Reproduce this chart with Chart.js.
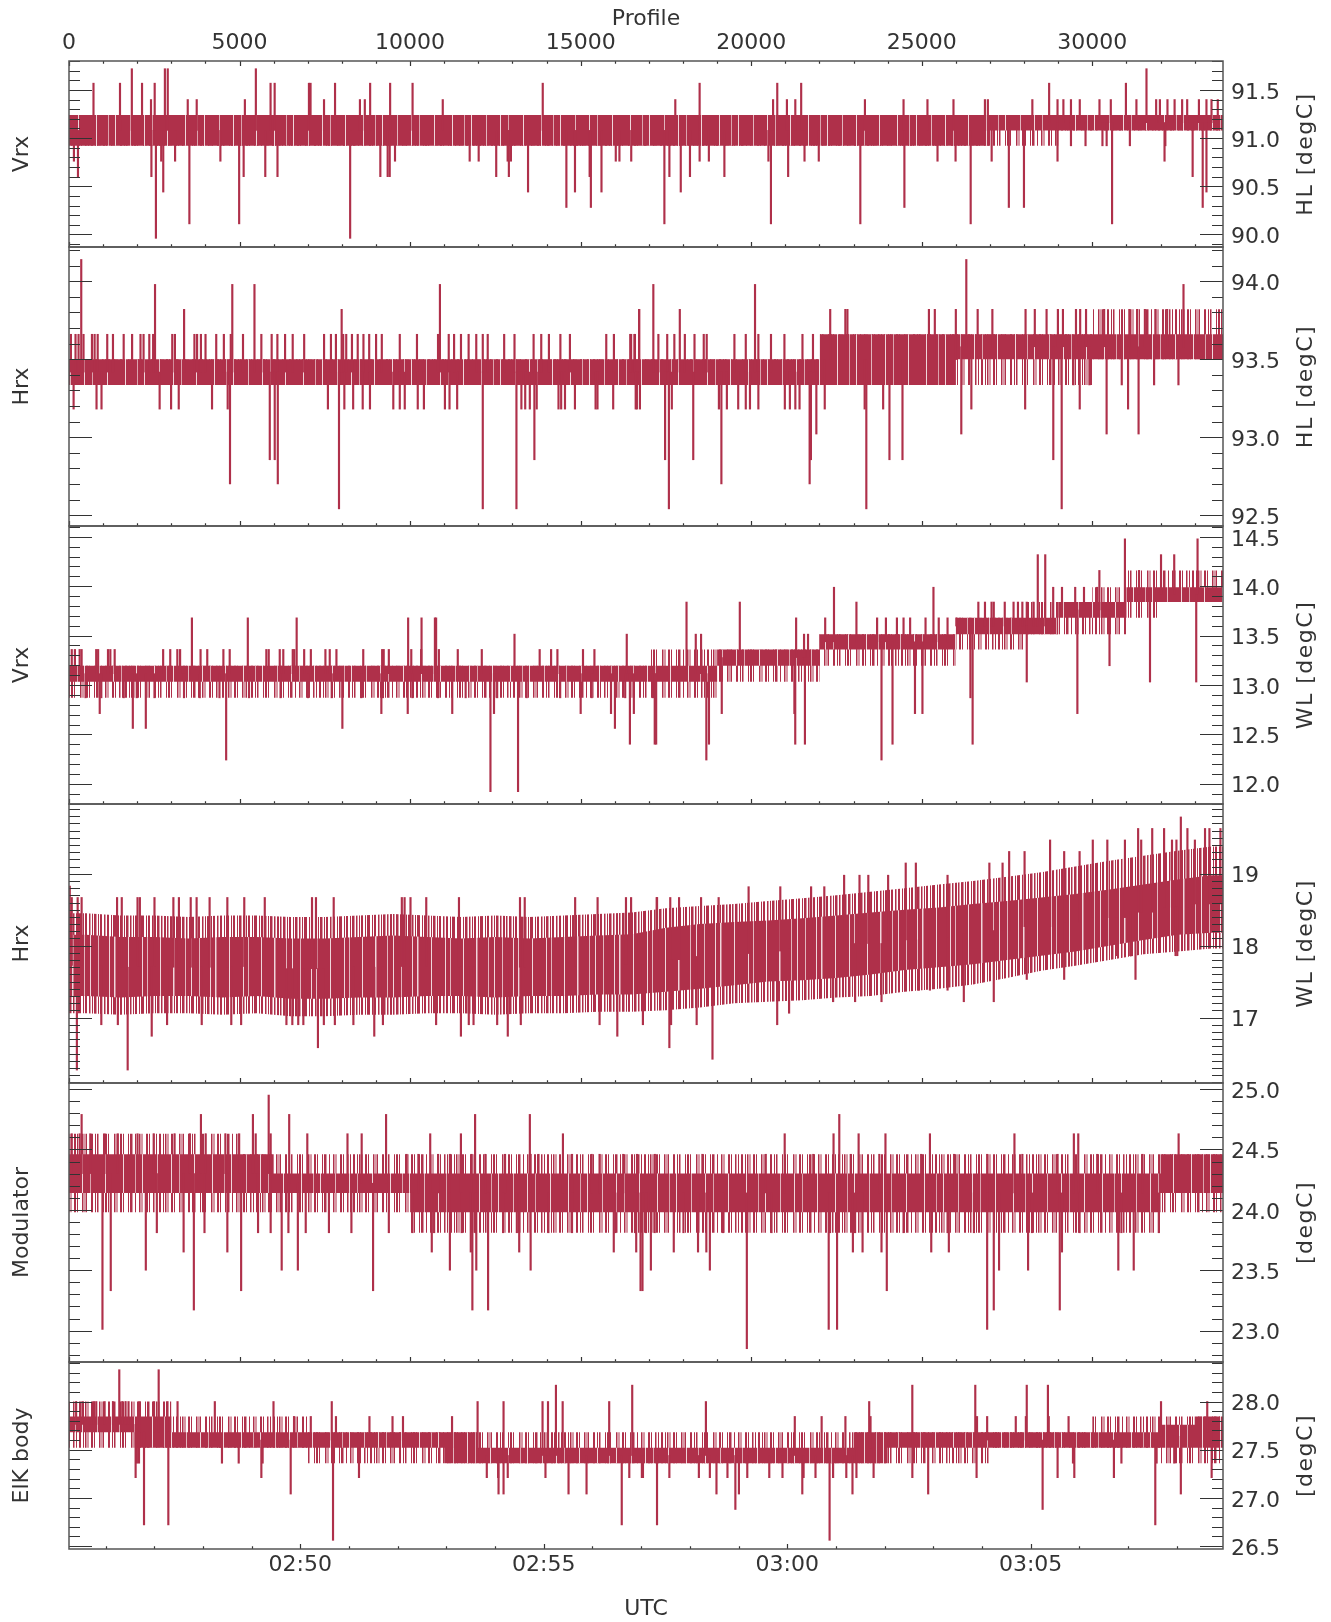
<!DOCTYPE html>
<html><head><meta charset="utf-8">
<script src="https://cdn.jsdelivr.net/npm/chart.js@4.4.1/dist/chart.umd.min.js"></script>
<style>html,body{margin:0;padding:0;background:#fff}canvas{display:block}</style>
</head><body>
<canvas id="c" width="1331" height="1622" style="width:1331px;height:1622px"></canvas>
<script>
// ---------- data ----------
const binStart = [0,1000,2000,3000,4000,5000,6000,7000,8000,9000,10000,11000,12000,13000,14000,15000,16000,17000,18000,19000,20000,21000,22000,23000,24000,25000,26000,27000,28000,29000,30000,31000,32000,33000];
const xMax = 33830;
const profileTicks = [0,5000,10000,15000,20000,25000,30000];
const utcMin = 9915, utcMax = 11337;
const utcTicks = [10200,10500,10800,11100];
const utcTickLabels = ['02:50','02:55','03:00','03:05'];
const leftTitles = ['Vrx','Hrx','Vrx','Hrx','Modulator','ElK body'];
const rightTitles = ['HL [degC]','HL [degC]','WL [degC]','WL [degC]','[degC]','[degC]'];

const p1Ticks = [90.0,90.5,91.0,91.5];
const p2Ticks = [92.5,93.0,93.5,94.0];
const p3Ticks = [12.0,12.5,13.0,13.5,14.0,14.5];
const p4Ticks = [17,18,19];
const p5Ticks = [23.0,23.5,24.0,24.5,25.0];
const p6Ticks = [26.5,27.0,27.5,28.0];

const p1CoreLo = [90.92,90.92,90.92,90.92,90.92,90.92,90.92,90.92,90.92,90.92,90.92,90.92,90.92,90.92,90.92,90.92,90.92,90.92,90.92,90.92,90.92,90.92,90.92,90.92,90.92,90.92,90.92,91.08,91.08,91.08,91.08,91.08,91.08,91.08];
const p1CoreHi = [91.24,91.24,91.24,91.24,91.24,91.24,91.24,91.24,91.24,91.24,91.24,91.24,91.24,91.24,91.24,91.24,91.24,91.24,91.24,91.24,91.24,91.24,91.24,91.24,91.24,91.24,91.24,91.24,91.24,91.24,91.24,91.24,91.24,91.24];
const p1FringeLo = [90.92,90.92,90.92,90.92,90.92,90.92,90.92,90.92,90.92,90.92,90.92,90.92,90.92,90.92,90.92,90.92,90.92,90.92,90.92,90.92,90.92,90.92,90.92,90.92,90.92,90.92,90.92,90.92,90.92,91.08,91.08,91.08,91.08,91.08];
const p1FringeHi = p1CoreHi;

const p2CoreLo = [93.335,93.335,93.335,93.335,93.335,93.335,93.335,93.335,93.335,93.335,93.335,93.335,93.335,93.335,93.335,93.335,93.335,93.335,93.335,93.335,93.335,93.335,93.335,93.335,93.335,93.335,93.50,93.50,93.50,93.50,93.50,93.50,93.50,93.50];
const p2CoreHi = [93.50,93.50,93.50,93.50,93.50,93.50,93.50,93.50,93.50,93.50,93.50,93.50,93.50,93.50,93.50,93.50,93.50,93.50,93.50,93.50,93.50,93.50,93.66,93.66,93.66,93.66,93.66,93.66,93.66,93.66,93.66,93.66,93.66,93.66];
const p2FringeLo = [93.335,93.335,93.335,93.335,93.335,93.335,93.335,93.335,93.335,93.335,93.335,93.335,93.335,93.335,93.335,93.335,93.335,93.335,93.335,93.335,93.335,93.335,93.335,93.335,93.335,93.335,93.335,93.335,93.335,93.335,93.50,93.50,93.50,93.50];
const p2FringeHi = [93.50,93.50,93.50,93.50,93.50,93.50,93.50,93.50,93.50,93.50,93.50,93.50,93.50,93.50,93.50,93.50,93.50,93.50,93.50,93.50,93.50,93.50,93.66,93.66,93.66,93.66,93.66,93.66,93.66,93.66,93.82,93.82,93.82,93.82];

const p3CoreLo = [13.034,13.034,13.034,13.034,13.034,13.034,13.034,13.034,13.034,13.034,13.034,13.034,13.034,13.034,13.034,13.034,13.034,13.034,13.034,13.195,13.195,13.195,13.36,13.36,13.36,13.36,13.515,13.515,13.515,13.68,13.68,13.84,13.84,13.84];
const p3CoreHi = [13.195,13.195,13.195,13.195,13.195,13.195,13.195,13.195,13.195,13.195,13.195,13.195,13.195,13.195,13.195,13.195,13.195,13.195,13.195,13.36,13.36,13.36,13.515,13.515,13.515,13.515,13.68,13.68,13.68,13.84,13.84,13.99,13.99,13.99];
const p3FringeLo = [12.87,12.87,12.87,12.87,12.87,12.87,12.87,12.87,12.87,12.87,12.87,12.87,12.87,12.87,12.87,12.87,12.87,12.87,12.87,13.034,13.034,13.034,13.195,13.195,13.195,13.195,13.36,13.36,13.515,13.515,13.515,13.68,13.84,13.84];
const p3FringeHi = [13.195,13.195,13.195,13.195,13.195,13.195,13.195,13.195,13.195,13.195,13.195,13.195,13.195,13.195,13.195,13.195,13.195,13.36,13.36,13.36,13.36,13.36,13.515,13.515,13.515,13.515,13.68,13.68,13.84,13.84,13.99,14.16,14.16,14.16];

const p4CoreLo = [17.30,17.28,17.30,17.30,17.28,17.30,17.26,17.26,17.28,17.28,17.30,17.30,17.28,17.30,17.30,17.32,17.32,17.36,17.40,17.45,17.50,17.52,17.55,17.60,17.66,17.70,17.74,17.80,17.86,17.92,18.00,18.08,18.15,18.18];
const p4CoreHi = [18.15,18.12,18.12,18.10,18.12,18.12,18.10,18.10,18.12,18.14,18.12,18.10,18.12,18.10,18.12,18.14,18.16,18.25,18.30,18.33,18.35,18.38,18.42,18.46,18.50,18.53,18.58,18.62,18.67,18.72,18.78,18.85,18.92,18.98];
const p4FringeLo = [17.06,17.04,17.06,17.06,17.04,17.06,17.02,17.02,17.04,17.04,17.06,17.06,17.04,17.06,17.06,17.08,17.08,17.10,17.14,17.20,17.22,17.24,17.28,17.30,17.36,17.40,17.46,17.55,17.65,17.72,17.80,17.88,17.92,17.96];
const p4FringeHi = [18.45,18.42,18.42,18.40,18.42,18.42,18.40,18.40,18.42,18.44,18.42,18.40,18.42,18.40,18.42,18.44,18.46,18.52,18.55,18.58,18.62,18.66,18.70,18.75,18.80,18.85,18.90,18.96,19.02,19.10,19.18,19.25,19.32,19.38];

const p5CoreLo = [24.14,24.14,24.14,24.14,24.14,24.14,24.14,24.14,24.14,24.14,23.98,23.98,23.98,23.98,23.98,23.98,23.98,23.98,23.98,23.98,23.98,23.98,23.98,23.98,23.98,23.98,23.98,23.98,23.98,23.98,23.98,23.98,24.14,24.14];
const p5CoreHi = [24.46,24.46,24.46,24.46,24.46,24.46,24.30,24.30,24.30,24.30,24.30,24.30,24.30,24.30,24.30,24.30,24.30,24.30,24.30,24.30,24.30,24.30,24.30,24.30,24.30,24.30,24.30,24.30,24.30,24.30,24.30,24.30,24.46,24.46];
const p5FringeLo = [23.98,23.98,23.98,23.98,23.98,23.98,23.98,23.98,23.98,23.98,23.81,23.81,23.81,23.81,23.81,23.81,23.81,23.81,23.81,23.81,23.81,23.81,23.81,23.81,23.81,23.81,23.81,23.81,23.81,23.81,23.81,23.81,23.98,23.98];
const p5FringeHi = [24.63,24.63,24.63,24.63,24.63,24.46,24.46,24.46,24.46,24.46,24.46,24.46,24.46,24.46,24.46,24.46,24.46,24.46,24.46,24.46,24.46,24.46,24.46,24.46,24.46,24.46,24.46,24.46,24.46,24.46,24.46,24.46,24.46,24.46];

const p6CoreLo = [27.68,27.68,27.52,27.52,27.52,27.52,27.52,27.52,27.52,27.52,27.52,27.36,27.36,27.36,27.36,27.36,27.36,27.36,27.36,27.36,27.36,27.36,27.36,27.36,27.52,27.52,27.52,27.52,27.52,27.52,27.52,27.52,27.52,27.52];
const p6CoreHi = [27.845,27.845,27.845,27.68,27.68,27.68,27.68,27.68,27.68,27.68,27.68,27.68,27.52,27.52,27.52,27.52,27.52,27.52,27.52,27.52,27.52,27.52,27.52,27.68,27.68,27.68,27.68,27.68,27.68,27.68,27.68,27.68,27.76,27.845];
const p6FringeLo = [27.52,27.52,27.52,27.52,27.52,27.52,27.52,27.36,27.36,27.36,27.36,27.36,27.36,27.36,27.36,27.36,27.36,27.36,27.36,27.36,27.36,27.36,27.36,27.36,27.36,27.36,27.36,27.52,27.52,27.52,27.52,27.52,27.36,27.36];
const p6FringeHi = [28.0,28.0,28.0,27.845,27.845,27.845,27.845,27.68,27.68,27.68,27.68,27.68,27.68,27.68,27.68,27.68,27.68,27.68,27.68,27.68,27.68,27.68,27.68,27.68,27.68,27.68,27.68,27.68,27.68,27.68,27.845,27.845,27.845,27.845];

const p1Spikes = [[718,91.57],[1495,91.57],[1842,91.72],[2141,91.57],[2404,91.40],[2512,91.57],[2811,91.72],[2895,91.72],[3481,91.40],[3744,91.40],[5156,91.40],[5478,91.72],[5909,91.57],[6029,91.57],[7034,91.57],[7081,91.57],[7476,91.40],[7799,91.57],[8529,91.40],[8672,91.40],[8828,91.57],[9414,91.57],[10072,91.57],[10957,91.40],[13888,91.57],
[144,90.76],[263,90.60],[2416,90.60],[2548,89.96],[2703,90.76],[2763,90.44],[3110,90.76],[3529,90.11],[4438,90.76],[4988,90.11],[5120,90.60],[5754,90.60],[6112,90.60],[8242,89.96],[9127,90.60],[9342,90.60],[9402,90.60],[9557,90.76],[11746,90.76],[12010,90.76],[12524,90.60],[12859,90.76],[12895,90.60],[12955,90.76],[13457,90.44],[14581,90.28],[14833,90.44],[15263,90.60],[15299,90.28],[15610,90.44],[16029,90.76],[16136,90.76],
[17774,91.40],[18487,91.57],[20640,91.40],[20763,91.57],[21046,91.40],[21292,91.40],[21464,91.57],[23333,91.40],[24465,91.40],[25166,91.40],[25929,91.40],[26851,91.40],[26937,91.40],[28241,91.40],[28733,91.57],[28979,91.40],[29151,91.40],[29373,91.40],[29631,91.40],[30209,91.40],[30541,91.40],[30984,91.57],[31292,91.40],[31587,91.72],[31870,91.40],[31980,91.40],[32202,91.40],[32411,91.40],[32632,91.40],[32780,91.40],[33124,91.40],[33345,91.40],[33493,91.40],[33677,91.40],
[16482,90.76],[17454,90.11],[17601,90.60],[17934,90.44],[18204,90.60],[18487,90.76],[18758,90.76],[19213,90.60],[20504,90.76],[20578,90.11],[21082,90.60],[21562,90.76],[21980,90.76],[23198,90.11],[24490,90.28],[25461,90.76],[25990,90.76],[26433,90.11],[27048,90.76],[27552,90.28],[27995,90.28],[28979,90.76],[30578,90.11],[32116,90.76],[32940,90.60],[33235,90.28],[33345,90.44],
[29373,90.92],[29800,90.92],[30296,90.92],[30419,90.92],[31100,90.92],[32140,90.92]];

const p2Spikes = [[359,94.14],[2522,93.98],[3374,93.82],[4787,93.98],[5437,93.98],[7993,93.82],[10874,93.98],[16715,93.82],
[56,93.66],[191,93.66],[280,93.66],[426,93.66],[673,93.66],[751,93.66],[841,93.66],[1121,93.66],[1289,93.66],[1603,93.66],[1850,93.66],[2096,93.66],[2186,93.66],[2354,93.66],[2466,93.66],[3027,93.66],[3105,93.66],[3677,93.66],[3755,93.66],[3867,93.66],[4002,93.66],[4316,93.66],[4540,93.66],[4742,93.66],[5101,93.66],[5639,93.66],[5941,93.66],[6109,93.66],[6334,93.66],[6558,93.66],[6894,93.66],[7477,93.66],[7679,93.66],[7825,93.66],[8038,93.66],[8127,93.66],[8295,93.66],[8464,93.66],[8632,93.66],[8800,93.66],[9002,93.66],[9170,93.66],[9697,93.66],[10201,93.66],[10818,93.66],[11132,93.66],[11289,93.66],[11491,93.66],[11715,93.66],[11939,93.66],[12130,93.66],[12275,93.66],[12757,93.66],[13060,93.66],[13620,93.66],[13844,93.66],[14069,93.66],[14405,93.66],[14685,93.66],[15750,93.66],[15974,93.66],[16479,93.66],[16591,93.66],
[16453,93.66],[16576,93.66],[17278,93.66],[17537,93.66],[17746,93.66],[18054,93.66],[18337,93.66],[18608,93.66],[18695,93.66],[19507,93.66],[19840,93.66],[20209,93.66],[20579,93.66],[20973,93.66],[21502,93.66],[21810,93.66],
[135,93.18],[807,93.18],[953,93.18],[2657,93.18],[2993,93.18],[3217,93.18],[4193,93.18],[4652,93.18],[4720,92.70],[5886,92.855],[6031,92.855],[6121,92.70],[7590,93.18],[7915,92.54],[8072,93.18],[8330,93.18],[8610,93.18],[8823,93.18],[9507,93.18],[9697,93.18],[9843,93.18],[10224,93.18],[10404,93.18],[11020,93.18],[11155,93.18],[11379,93.18],[12130,92.54],[13117,92.54],[13262,93.18],[13374,93.18],[13509,93.18],[13643,92.855],[13711,93.18],[14350,93.18],[14428,93.18],[14540,93.18],[14832,93.18],[15437,93.18],[15493,93.18],[15953,93.18],[16648,93.18],
[16712,93.82],[17130,93.98],[17906,93.82],[20111,93.98],[22315,93.82],[22759,93.82],[22820,93.82],[25209,93.82],[25382,93.82],[25998,93.82],[26305,94.14],[26638,93.82],[27069,93.82],[28042,93.82],[28313,93.82],[28658,93.82],[28990,93.82],[29138,93.82],[29520,93.82],[29643,93.82],[29815,93.82],[30345,93.82],[31084,93.82],[31318,93.82],[31540,93.82],[31847,93.82],[32192,93.82],[32672,93.98],
[16613,93.18],[16737,93.18],[17475,92.855],[17586,92.54],[17672,93.18],[18300,92.855],[19052,93.18],[19125,92.70],[19286,93.18],[19618,93.18],[19840,93.18],[19963,93.18],[20209,93.18],[20985,93.18],[21133,93.18],[21293,93.18],[21416,93.18],[21712,92.70],[21749,92.855],[21909,93.02],[22155,93.18],[23325,93.18],[23374,92.54],[23867,93.18],[24052,92.855],[24434,92.855],[26158,93.02],[26453,93.18],[28030,93.18],[28855,92.855],[29101,92.54],[29630,93.18],[30418,93.02],[31047,93.18],[31355,93.02],
[29446,93.335],[29914,93.335],[30862,93.335],[31810,93.335],[32524,93.335]];

const p3Spikes = [[3603,13.68],[5242,13.68],[6674,13.68],[9942,13.68],[10335,13.68],[10727,13.68],[10762,13.68],[13060,13.515],[16351,13.515],
[81,13.36],[173,13.36],[312,13.36],[370,13.36],[797,13.36],[854,13.36],[1143,13.36],[1212,13.36],[1339,13.36],[2760,13.36],[2968,13.36],[3176,13.36],[3257,13.36],[3857,13.36],[4053,13.36],[4526,13.36],[4711,13.36],[5785,13.36],[5855,13.36],[6178,13.36],[6282,13.36],[6559,13.36],[6605,13.36],[6894,13.36],[7090,13.36],[7517,13.36],[7644,13.36],[7840,13.36],[8626,13.36],[9180,13.36],[9226,13.36],[9376,13.36],[10034,13.36],[10323,13.36],[10843,13.36],[11397,13.36],[12101,13.36],[13798,13.36],[14133,13.36],[14318,13.36],[15068,13.36],[15403,13.36],
[901,12.71],[1871,12.56],[2252,12.56],[4607,12.24],[8014,12.56],[9157,12.71],[9930,12.71],[11235,12.71],[12355,11.92],[12459,12.71],[13164,11.92],[15000,12.71],[15889,12.71],[16004,12.56],[16443,12.40],[16559,12.71],[17171,12.40],
[485,12.87],[947,12.87],[1605,12.87],[1986,12.87],[2506,12.87],[3372,12.87],[3834,12.87],[4411,12.87],[5277,12.87],[6201,12.87],[7009,12.87],[7702,12.87],[8568,12.87],[9203,12.87],[10069,12.87],[10820,12.87],[11628,12.87],[12552,12.87],[13418,12.87],[14399,12.87],[15323,12.87],[16305,12.87],[17113,12.87],
[18103,13.84],[18374,13.515],[18529,13.515],[19665,13.84],[21316,13.68],[21548,13.515],[21665,13.515],[22168,13.68],[22426,13.99],[23084,13.84],[23690,13.68],[25342,13.99],[27110,13.84],[27819,13.84],[27948,13.84],[28400,14.32],[28619,14.32],[29497,13.99],[30206,14.16],[30955,14.48],[31368,14.16],[32013,14.32],[32400,14.32],[33084,14.48],
[23948,13.68],[24271,13.68],[24465,13.68],[24658,13.68],[25110,13.68],[25497,13.68],[25755,13.68],[26013,13.68],
[26658,13.84],[26852,13.84],[27045,13.84],[27432,13.84],[27690,13.84],[28077,13.84],[28271,13.84],
[28852,13.99],[29110,13.99],[29755,13.99],[30142,13.99],
[17213,12.40],[18684,12.24],[18761,12.40],[19136,12.71],[21265,12.71],[21290,12.40],[21574,12.40],[23819,12.24],[24142,12.40],[24800,12.71],[25019,12.71],[26426,12.87],[26490,12.40],[28077,13.03],[29561,12.71],[30503,13.195],[31690,13.03],[33045,13.03]];

const p4Spikes = [[23,18.83],
[81,18.67],[254,18.67],[370,18.67],[1409,18.67],[1547,18.67],[2009,18.67],[2078,18.67],[2506,18.67],[3060,18.67],[3222,18.67],[3568,18.67],[3741,18.67],[4122,18.67],[4642,18.67],[5138,18.67],[5739,18.67],[7124,18.67],[7240,18.67],[7760,18.67],[9757,18.67],[9838,18.67],[10011,18.67],[10473,18.67],[11432,18.67],[13221,18.67],[13360,18.67],[14838,18.67],[15496,18.67],[16328,18.67],[16478,18.67],[17228,18.67],
[947,16.90],[1432,16.90],[2875,16.90],[3891,16.90],[4757,16.90],[5046,16.90],[6374,16.90],[6547,16.90],[6720,16.90],[6870,16.90],[7471,16.90],[7794,16.90],[8337,16.90],[9203,16.90],[10762,16.90],[11720,16.90],[11859,16.90],[12552,16.90],[13245,16.90],[15554,16.90],[16824,16.90],
[2425,16.74],[8949,16.74],[11489,16.74],[12863,16.74],[16074,16.74],[7298,16.58],[1720,16.27],[231,16.27],
[32594,19.79],[31342,19.63],[31755,19.63],[32103,19.63],[32787,19.63],[33303,19.63],[33432,19.63],[33755,19.63],
[28761,19.47],[30013,19.47],[30439,19.47],[30955,19.47],[31432,19.47],[32335,19.47],[32465,19.47],[33006,19.47],
[27561,19.31],[28013,19.31],[29174,19.31],[29626,19.31],
[24529,19.15],[24826,19.15],[26981,19.15],[27368,19.15],
[22723,18.98],[23174,18.98],[23432,18.98],[24013,18.98],[25755,18.98],
[19923,18.82],[20852,18.82],[21755,18.82],[22142,18.82],
[17239,18.67],[17626,18.67],[17884,18.67],[18529,18.67],[19045,18.67],
[17600,16.58],[18864,16.42],[17650,16.90],[18400,16.90],[20761,16.90],[21110,17.06],[22400,17.22],[23045,17.22],[23819,17.22],[26232,17.22],[27110,17.22],[24916,17.38],[25239,17.38],[25755,17.38],[28077,17.53],[29174,17.53],[31265,17.53],[30723,17.86],[31110,17.86],[32439,17.86],[32490,17.86]];

const p5Spikes = [[5854,24.95],[370,24.79],[3868,24.79],[5392,24.79],[6455,24.79],[9295,24.79],[11905,24.79],[13510,24.79],
[81,24.63],[312,24.63],[624,24.63],[1039,24.63],[1432,24.63],[2009,24.63],[2483,24.63],[3095,24.63],[3545,24.63],[4007,24.63],[4584,24.63],[4988,24.63],[5473,24.63],[5912,24.63],[6986,24.63],[8164,24.63],[8580,24.63],[10589,24.63],[11489,24.63],[14480,24.63],
[22581,24.79],[22413,24.63],[20981,24.63],[23148,24.63],[23935,24.63],[25239,24.63],[27716,24.63],[29458,24.63],[29587,24.63],[32529,24.63],
[17174,24.46],[18568,24.46],[20426,24.46],[21819,24.46],[22916,24.46],[23755,24.46],[24981,24.46],[25948,24.46],[26916,24.46],[27948,24.46],[28981,24.46],[30142,24.46],[31471,24.46],
[9896,24.46],[10242,24.46],[10820,24.46],[11166,24.46],[11801,24.46],[12205,24.46],[12783,24.46],[13533,24.46],[13764,24.46],[14746,24.46],[15323,24.46],[15554,24.46],[16247,24.46],[16651,24.46],
[981,23.01],[1224,23.33],[2252,23.50],[2575,23.81],[3360,23.65],[3660,23.17],[3972,23.81],[4642,23.65],[5046,23.33],[5542,23.81],[5912,23.81],[6235,23.50],[6432,23.81],[6709,23.50],[6940,23.81],[7620,23.81],[8279,23.81],[8914,23.33],[9376,23.81],[10635,23.65],[11166,23.50],[11778,23.65],[11825,23.17],[11940,23.50],[12286,23.17],[13198,23.65],[13533,23.50],[15970,23.65],[16628,23.65],[16755,23.33],[17170,23.81],
[19871,22.85],[22271,23.01],[22516,23.01],[26916,23.01],[27110,23.17],[23974,23.33],[29045,23.17],[16812,23.33],[17058,23.50],[18787,23.50],[27265,23.50],[28116,23.50],[30761,23.50],[31213,23.50],[17729,23.65],[18440,23.65],[18684,23.65],[22980,23.65],[23264,23.65],[23819,23.65],[25277,23.65],[25793,23.65],[29109,23.65],
[16916,23.81],[18013,23.81],[19174,23.81],[20594,23.81],[22310,23.81],[23045,23.81],[24465,23.81],[25755,23.81],[26529,23.81],[28232,23.81],[29626,23.81],[30852,23.81],[31948,23.81],
[10069,23.81],[10704,23.81],[11512,23.81],[11916,23.81],[12725,23.81],[13129,23.81],[14053,23.81],[14746,23.81],[16016,23.81],[16593,23.81]];

const p6Spikes = [[1474,28.33],[2629,28.33],[14275,28.17],[16511,28.17],
[209,28.0],[393,28.0],[725,28.0],[799,28.0],[1044,28.0],[1290,28.0],[1560,28.0],[1658,28.0],[1745,28.0],[2064,28.0],[2494,28.0],[2887,28.0],[3182,28.0],[4275,28.0],[5995,28.0],[7703,28.0],[11978,28.0],[12739,28.0],[13882,28.0],[14042,28.0],[14472,28.0],[15836,28.0],
[2199,26.72],[2912,26.72],[7740,26.56],[16204,26.72],[6499,27.04],[12592,27.04],[12739,27.04],[14644,27.04],[15172,27.04],
[1953,27.21],[5639,27.21],[8501,27.21],[12248,27.21],[12580,27.21],[12862,27.21],[13968,27.21],[16425,27.21],[16794,27.21],
[6597,27.845],[7088,27.845],[7826,27.845],[8808,27.845],[9484,27.845],[9791,27.845],[11229,27.845],
[1990,27.36],[2052,27.36],[4484,27.36],[4975,27.36],[5676,27.36],
[24722,28.17],[26568,28.17],[28077,28.17],[28697,28.17],[18671,28.0],[23458,28.0],[32013,28.0],[33368,28.0],
[21277,27.845],[22064,27.845],[22761,27.845],[23497,27.845],[26619,27.845],[26916,27.845],[27755,27.845],[28051,27.845],[28722,27.845],[29303,27.845],
[17238,26.72],[22297,26.56],[19535,26.88],[31845,26.72],[28542,26.88],[18981,27.04],[19639,27.04],[21497,27.04],[22968,27.04],[25187,27.04],[32594,27.04],
[16826,27.21],[17600,27.21],[18465,27.21],[18787,27.21],[19303,27.21],[19884,27.21],[20529,27.21],[20916,27.21],[21535,27.21],[21884,27.21],[22400,27.21],[22787,27.21],[23084,27.21],[23587,27.21],[24723,27.21],[26606,27.21],[28981,27.21],[29471,27.21],[30632,27.21],[33497,27.21],
[29432,27.36],[30852,27.36],[31884,27.36],[32400,27.36]];

// ---------- styles / layout ----------
const COLOR = 'rgb(175,48,74)';
const TXT = '#333';
const FONT = {family: 'DejaVu Sans', size: 22};
const canvas = document.getElementById('c');
const mainCtx = canvas.getContext('2d');

// texture tiles (styling only): comb of thin lines for the fringe, thin white streaks in the core
const FRINGE_STRIPES = [[0,1.5],[2.5,1],[6,2],[9,1],[14,1.5],[16.5,1],[18,1],[23,2],[27,1],[29,1.5],[35,1],[37,2],[40,1],[46,1.5],[48.5,1],[52,2],[55,1],[60,1],[62,2.5],[67,1],[71,1.5],[73.5,1],[78,2],[81,1],[85,1.5],[88,1],[91,2],[95,1]];
const FRINGE_DENSE = [[0,2],[3,1.5],[6,2.5],[10,1],[12,2],[16,1],[18,2.5],[22,1.5],[25,1],[27,3],[32,1],[34,2],[38,1.5],[41,1],[43,2.5],[47,1],[49,2],[53,1.5],[56,2],[60,1],[62,3],[67,1],[69,2],[73,1],[75,2.5],[79,1.5],[82,1],[84,2],[88,1],[90,3],[95,1],[97,2],[101,1.5],[104,1],[106,2.5],[110,1.5]];
const CORE_GAPS = [[7,1],[19,0.7],[26,1],[41,0.8],[55,1],[63,0.7],[78,1]];
const NOISY_GAPS = [[3,1],[11,0.8],[22,1],[27,1.5],[41,1],[55,1],[60,0.8],[73,1],[86,1.5],[98,0.8]];
function makePattern(width, bg, stripes, stripeColor, shift){
  const t = document.createElement('canvas'); t.width = width; t.height = 4;
  const g = t.getContext('2d');
  if (bg) { g.fillStyle = bg; g.fillRect(0,0,width,4); }
  g.fillStyle = stripeColor;
  stripes.forEach(s => g.fillRect(s[0],0,s[1],4));
  const pat = mainCtx.createPattern(t, 'repeat');
  if (pat.setTransform) pat.setTransform(new DOMMatrix().translate(shift,0));
  return pat;
}

const panels = [
  {min:89.87, max:91.80, ticks:p1Ticks, dec:1, major:5, h:186, lo:p1CoreLo, hi:p1CoreHi, flo:p1FringeLo, fhi:p1FringeHi, sp:p1Spikes, smooth:false, noisy:false},
  {min:92.43, max:94.22, ticks:p2Ticks, dec:1, major:5, h:279, lo:p2CoreLo, hi:p2CoreHi, flo:p2FringeLo, fhi:p2FringeHi, sp:p2Spikes, smooth:false, noisy:false},
  {min:11.795,max:14.61, ticks:p3Ticks, dec:1, major:5, h:278, lo:p3CoreLo, hi:p3CoreHi, flo:p3FringeLo, fhi:p3FringeHi, sp:p3Spikes, smooth:false, noisy:false},
  {min:16.09, max:19.97, ticks:p4Ticks, dec:0, major:10, h:279, lo:p4CoreLo, hi:p4CoreHi, flo:p4FringeLo, fhi:p4FringeHi, sp:p4Spikes, smooth:true, noisy:true},
  {min:22.74, max:25.05, ticks:p5Ticks, dec:1, major:5, h:279, lo:p5CoreLo, hi:p5CoreHi, flo:p5FringeLo, fhi:p5FringeHi, sp:p5Spikes, smooth:false, noisy:false},
  {min:26.47, max:28.41, ticks:p6Ticks, dec:1, major:5, h:187, lo:p6CoreLo, hi:p6CoreHi, flo:p6FringeLo, fhi:p6FringeHi, sp:p6Spikes, smooth:false, noisy:false}
];

function steps(arr, smooth){
  const last = arr[arr.length-1];
  if (smooth) {
    return [{x:0, y:arr[0]}].concat(binStart.map((x,i)=>({x:x+500, y:arr[i]}))).concat([{x:xMax, y:last}]);
  }
  return binStart.map((x,i)=>({x:x, y:arr[i]})).concat([{x:xMax, y:last}]);
}
function binOf(x){
  let b = 0;
  for (let i=0;i<binStart.length;i++) if (binStart[i] <= x) b = i;
  return b;
}

const datasets = [];
const scales = {
  x: {type:'linear', position:'top', min:0, max:xMax, offset:false, bounds:'data',
      afterBuildTicks: s => { s.ticks = profileTicks.map(v=>({value:v})); },
      ticks:{font:FONT, color:TXT, padding:5, maxRotation:0, autoSkip:false, callback: v => String(v)},
      grid:{display:false, drawTicks:false}, border:{display:false},
      title:{display:true, text:'Profile', font:FONT, color:TXT, padding:{top:6, bottom:0}},
      afterFit: s => { s.height = 61; }},
  utc: {type:'linear', axis:'x', position:'bottom', min:utcMin, max:utcMax, offset:false, bounds:'data',
      afterBuildTicks: s => { s.ticks = utcTicks.map(v=>({value:v})); },
      ticks:{font:FONT, color:TXT, padding:3, maxRotation:0, autoSkip:false, callback: (v,i) => utcTickLabels[i]},
      grid:{display:false, drawTicks:false}, border:{display:false},
      title:{display:true, text:'UTC', font:FONT, color:TXT, padding:{top:0, bottom:0}},
      afterFit: s => { s.height = 73; }}
};

panels.forEach((p,k) => {
  const yid = 'y'+(k+1);
  scales[yid] = {type:'linear', axis:'y', position:'right', stack:'R', stackWeight:p.h, weight:k+1,
    min:p.min, max:p.max, bounds:'data', stacked:false,
    afterBuildTicks: s => { s.ticks = p.ticks.map(v=>({value:v})); },
    ticks:{font:FONT, color:TXT, padding:8, labelOffset:3, autoSkip:false, callback: v => Number(v).toFixed(p.dec)},
    grid:{display:false, drawTicks:false}, border:{display:false},
    afterFit: s => { s.width = 108; }};
  scales['l'+(k+1)] = {type:'linear', axis:'y', position:'left', stack:'L', stackWeight:p.h, weight:panels.length-k,
    min:0, max:1, bounds:'data',
    ticks:{display:false}, grid:{display:false, drawTicks:false}, border:{display:false},
    title:{display:true, text:leftTitles[k], font:FONT, color:TXT, padding:{top:9, bottom:0}},
    afterFit: s => { s.width = 69; }};

  const fringePat = p.noisy ? makePattern(113, null, FRINGE_DENSE, COLOR, k*17)
                            : makePattern(97, null, FRINGE_STRIPES, COLOR, k*17);
  const corePat = p.noisy ? makePattern(101, COLOR, NOISY_GAPS, 'rgba(255,255,255,0.8)', k*29)
                          : makePattern(89, COLOR, CORE_GAPS, 'rgba(255,255,255,0.8)', k*29);
  const common = {type:'line', xAxisID:'x', yAxisID:yid, borderWidth:0, borderColor:'rgba(0,0,0,0)', pointRadius:0, stepped:!p.smooth, tension:0};
  datasets.push(Object.assign({}, common, {label:'fringeHi'+k, data:steps(p.fhi, p.smooth), fill:'+1', backgroundColor:fringePat, order:3}));
  datasets.push(Object.assign({}, common, {label:'fringeLo'+k, data:steps(p.flo, p.smooth), fill:false, order:3}));
  datasets.push(Object.assign({}, common, {label:'coreHi'+k, data:steps(p.hi, p.smooth), fill:'+1', backgroundColor:corePat, order:2}));
  datasets.push(Object.assign({}, common, {label:'coreLo'+k, data:steps(p.lo, p.smooth), fill:false, order:2}));
  datasets.push({type:'bar', label:'spikes'+k, xAxisID:'x', yAxisID:yid, stack:'sp', order:1,
    backgroundColor:COLOR, borderWidth:0, barThickness:1.5,
    data: p.sp.map(([x,v]) => { const b = binOf(x); return {x:x, y:[(p.lo[b]+p.hi[b])/2, v]}; })});
});

const decor = {
  id:'decor',
  afterDatasetsDraw(chart){
    const ctx = chart.ctx, ca = chart.chartArea, xs = chart.scales.x, us = chart.scales.utc;
    const L = ca.left, R = ca.right;
    ctx.save();
    panels.forEach((p,k) => {
      const ys = chart.scales['y'+(k+1)];
      const top = ys.top, bot = ys.bottom;
      ctx.beginPath();
      ctx.strokeStyle = '#333'; ctx.lineWidth = 1.2;
      const t0 = Math.ceil(p.min*10 - 1e-6), t1 = Math.floor(p.max*10 + 1e-6);
      for (let t=t0; t<=t1; t++){
        const y = Math.round(ys.getPixelForValue(t/10)) + 0.5;
        const len = (t % p.major === 0) ? 23 : 11;
        ctx.moveTo(L, y); ctx.lineTo(L+len, y);
        ctx.moveTo(R, y); ctx.lineTo(R-len, y);
      }
      if (k < panels.length-1){
        for (let v=0; v<=xMax; v+=1000){
          const x = Math.round(xs.getPixelForValue(v)) + 0.5;
          ctx.moveTo(x, bot); ctx.lineTo(x, bot - (v%5000===0 ? 5 : 2.7));
        }
      } else {
        for (let s=Math.ceil(utcMin/60)*60; s<=utcMax; s+=60){
          const x = Math.round(us.getPixelForValue(s)) + 0.5;
          ctx.moveTo(x, bot); ctx.lineTo(x, bot - (s%300===0 ? 5 : 2.7));
        }
      }
      if (k === 0){
        for (let v=0; v<=xMax; v+=1000){
          const x = Math.round(xs.getPixelForValue(v)) + 0.5;
          ctx.moveTo(x, top); ctx.lineTo(x, top + (v%5000===0 ? 5 : 2.7));
        }
      }
      ctx.stroke();
      ctx.strokeStyle = '#555'; ctx.lineWidth = 1.5;
      ctx.strokeRect(L, top, R-L, bot-top);
      ctx.save();
      ctx.fillStyle = TXT; ctx.font = '22px "DejaVu Sans"';
      if ('letterSpacing' in ctx) ctx.letterSpacing = '1.5px';
      ctx.textAlign = 'center'; ctx.textBaseline = 'middle';
      ctx.translate(1306, (top+bot)/2); ctx.rotate(-Math.PI/2);
      ctx.fillText(rightTitles[k], 0, 0);
      ctx.restore();
    });
    ctx.restore();
  }
};

new Chart(canvas, {
  type:'bar',
  data:{datasets:datasets},
  options:{
    responsive:false, animation:false, devicePixelRatio:1, events:[],
    layout:{padding:0},
    plugins:{legend:{display:false}, tooltip:{enabled:false}},
    scales:scales
  },
  plugins:[decor]
});
</script>
</body></html>
